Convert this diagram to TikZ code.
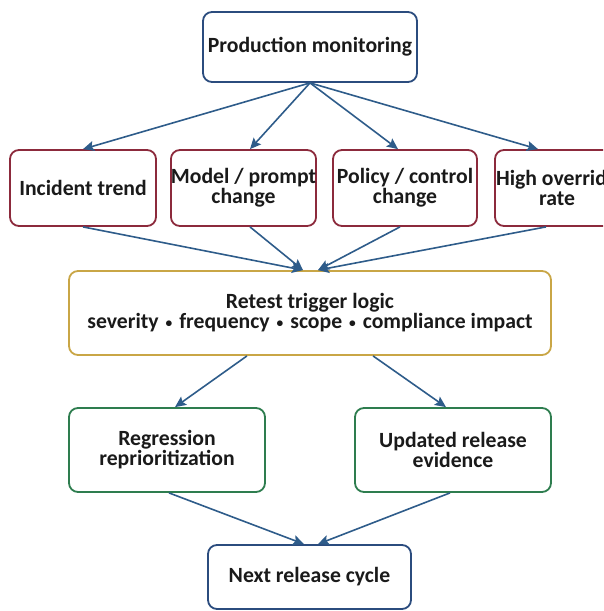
\documentclass[tikz,border=0pt]{standalone}
\usepackage{fontspec}
\setmainfont{Carlito}
\usetikzlibrary{arrows.meta}

\definecolor{edgeblue}{HTML}{2B4C7E}
\definecolor{edgered}{HTML}{8C2A3C}
\definecolor{edgegold}{HTML}{C9A646}
\definecolor{edgegreen}{HTML}{2E7D4F}
\definecolor{flowblue}{HTML}{2E5C8A}
\definecolor{ink}{HTML}{1A1A1A}

% small centred bullet between criteria
\newcommand\critsep{\hspace{0.32em}\raisebox{0.12ex}{\scalebox{0.62}{•}}\hspace{0.32em}}

\tikzset{
  box/.style={draw, rounded corners=9pt, line width=1.8pt, fill=white,
    align=center, inner sep=0pt, text=ink,
    font=\bfseries\fontsize{21.7}{20}\selectfont},
  bluebox/.style={box, draw=edgeblue},
  redbox/.style={box, draw=edgered, minimum height=76pt},
  goldbox/.style={box, draw=edgegold},
  greenbox/.style={box, draw=edgegreen, minimum width=196pt, minimum height=84pt},
  flow/.style={draw=flowblue, line width=1.6pt,
    -{Stealth[length=11pt, width=10pt, inset=2pt]}}
}

\begin{document}
\begin{tikzpicture}[x=1pt, y=-1pt]
  \useasboundingbox (0,0) rectangle (603,611);
  \clip (0,0) rectangle (603,611);

  % source
  \node[bluebox, minimum width=214pt, minimum height=70pt] (pm) at (310,47) {Production monitoring};

  % change signals
  \node[redbox, minimum width=146pt] (inc) at (83,188) {Incident trend};
  \node[redbox, minimum width=143pt] (mod) at (243.5,188) {Model / prompt\\change};
  \node[redbox, minimum width=144pt] (pol) at (405,188) {Policy / control\\change};
  \node[redbox, minimum width=124pt] (hor) at (557,188) {High override\\rate};

  % decision
  \node[goldbox, minimum width=482pt, minimum height=84pt] (ret) at (310,313)
    {Retest trigger logic\\severity\critsep frequency\critsep scope\critsep compliance impact};

  % outcomes
  \node[greenbox] (reg) at (167,450) {Regression\\reprioritization};
  \node[greenbox] (upd) at (453,450) {Updated release\\evidence};

  \node[bluebox, minimum width=203pt, minimum height=64pt] (nxt) at (309.5,577) {Next release cycle};

  % fan-out
  \draw[flow] (pm.south) -- (inc.north);
  \draw[flow] (pm.south) -- ([xshift=6.5pt]mod.north);
  \draw[flow] (pm.south) -- ([xshift=-7pt]pol.north);
  \draw[flow] (pm.south) -- ([xshift=-19pt]hor.north);

  % fan-in to trigger logic
  \draw[flow] (inc.south) -- ([xshift=-7pt]ret.north);
  \draw[flow] ([xshift=6.5pt]mod.south) -- ([xshift=-7pt]ret.north);
  \draw[flow] ([xshift=-5pt]pol.south) -- ([xshift=8pt]ret.north);
  \draw[flow] ([xshift=-11pt]hor.south) -- ([xshift=8pt]ret.north);

  % outcomes
  \draw[flow] ([xshift=-63pt]ret.south) -- ([xshift=8pt]reg.north);
  \draw[flow] ([xshift=63pt]ret.south) -- ([xshift=-7pt]upd.north);

  % next cycle
  \draw[flow] ([xshift=2pt]reg.south) -- ([xshift=-5.5pt]nxt.north);
  \draw[flow] ([xshift=-3pt]upd.south) -- ([xshift=8.5pt]nxt.north);
\end{tikzpicture}
\end{document}
